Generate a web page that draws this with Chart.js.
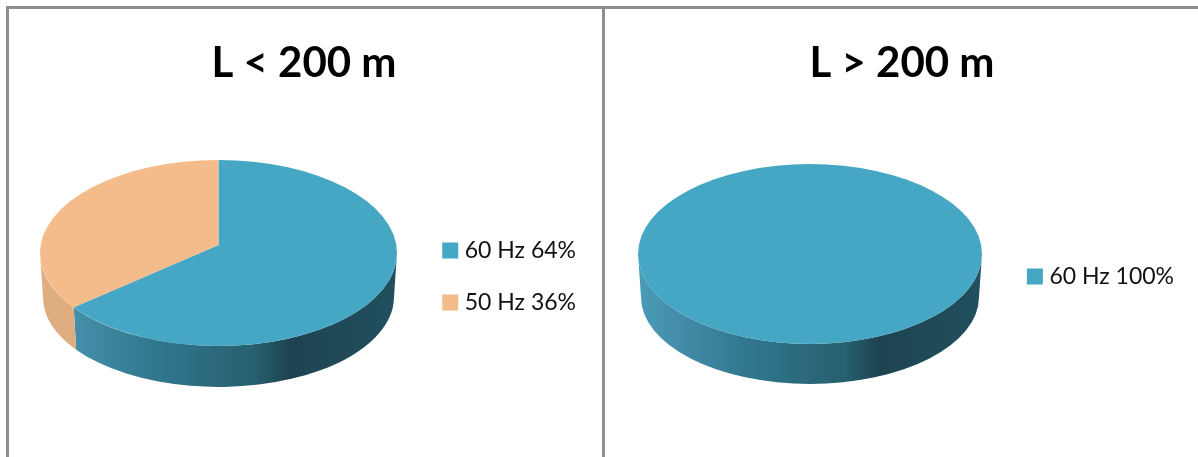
<!DOCTYPE html>
<html>
<head>
<meta charset="utf-8">
<style>
  html, body { margin: 0; background: #fff; }
  body { position: relative; width: 1198px; height: 457px; overflow: hidden; }
  .rule { position: absolute; background: #8e8e8e; }
  canvas { position: absolute; top: 0; }
</style>
</head>
<body>
<div class="rule" style="left:6px;top:6px;width:1192px;height:3px"></div>
<div class="rule" style="left:6px;top:6px;width:3px;height:451px"></div>
<div class="rule" style="left:602px;top:6px;width:3px;height:451px"></div>
<canvas id="left" width="602" height="457" style="left:3px"></canvas>
<canvas id="right" width="592" height="457" style="left:606px"></canvas>
<script src="https://cdn.jsdelivr.net/npm/chart.js@4"></script>
<script>
// Chart values.
const leftTitle = "L < 200 m";
const leftCategories = ["60 Hz", "50 Hz"];
const leftValues = [64, 36];

const rightTitle = "L > 200 m";
const rightCategories = ["60 Hz"];
const rightValues = [100];

const COLORS = ["#46a7c4", "#f5bc8b"];
const WALLS = [
  [[0, "#4a9cb8"], [0.1, "#448fab"], [0.31, "#31788f"], [0.6, "#27606f"], [0.7, "#1e4350"], [1, "#21505f"]],
  [[0, "#dfae80"], [1, "#dba777"]],
];

// Where a slice edge, leaving the raised pie centre at this angle, meets the rim
// (measured from the disc centre, so the wall lines up with the clipped top).
function rimAngle(angle, lift, r) {
  const c = Math.cos(angle), s = Math.sin(angle);
  const t = lift * s + Math.sqrt(lift * lift * s * s + r * r - lift * lift);
  return Math.atan2(t * s - lift, t * c);
}

// Chart.js only draws flat pies: squash the arcs into an ellipse and put a side
// wall under the front half so it reads as the tilted disc in the original.
// The pie centre sits a bit above the disc centre, like the perspective there.
const tiltedPie = {
  id: "tiltedPie",
  beforeDatasetsDraw(chart, args, opts) {
    const { ctx } = chart;
    const arcs = chart.getDatasetMeta(0).data;
    const first = arcs[0];
    const r = opts.rim;
    const ry = r * opts.squash;
    const lift = opts.lift / opts.squash;
    const norm = (a) => { const n = rimAngle(a, lift, r); return n < -Math.PI / 2 ? n + 2 * Math.PI : n; };

    arcs.forEach((arc, i) => {
      const a0 = Math.max(norm(arc.startAngle), 0);
      const a1 = Math.min(arc.endAngle - arc.startAngle >= 2 * Math.PI - 1e-6 ? Math.PI : norm(arc.endAngle), Math.PI);
      if (a1 <= a0) return;
      const grad = ctx.createLinearGradient(opts.cx - r, 0, opts.cx + r, 0);
      WALLS[i].forEach(([t, c]) => grad.addColorStop(t, c));
      ctx.beginPath();
      ctx.ellipse(opts.cx, opts.cy, r, ry, 0, a0, a1);
      ctx.ellipse(opts.cx, opts.cy + opts.depth + 3, r - 3, ry - 3, 0, a1, a0, true);
      ctx.closePath();
      ctx.fillStyle = grad;
      ctx.fill();
    });

    ctx.save();
    ctx.beginPath();
    ctx.ellipse(opts.cx, opts.cy, r, ry, 0, 0, 2 * Math.PI);
    ctx.clip();
    ctx.translate(opts.cx, opts.cy - opts.lift);
    ctx.scale(1, opts.squash);
    ctx.translate(-first.x, -first.y);
  },
  afterDatasetsDraw(chart) {
    chart.ctx.restore();
  },
};

function discChart(id, title, categories, values, disc, legendPad) {
  return new Chart(document.getElementById(id), {
    type: "pie",
    data: {
      labels: categories.map((c, i) => `${c} ${values[i]}%`),
      datasets: [{
        data: values,
        backgroundColor: COLORS.slice(0, values.length),
        borderWidth: 0,
        radius: disc.rim + disc.lift / disc.squash + 2,
        clip: false,
      }],
    },
    options: {
      responsive: false,
      animation: false,
      // left padding keeps the title centred; negative bottom drops the legend to mid-disc
      layout: { padding: { left: legendPad, right: legendPad, bottom: -96 } },
      plugins: {
        tooltip: { enabled: false },
        title: {
          display: true,
          text: title,
          color: "#000",
          font: { family: "Lato", size: 42, weight: "bold" },
          padding: { top: 38, bottom: 30 },
        },
        legend: {
          position: "right",
          labels: {
            color: "#111",
            font: { family: "Lato", size: 23 },
            boxWidth: 6,
            boxHeight: 6,
            padding: 29,
            // thick same-colour stroke: the square stays 16px but sits closer to its text
            generateLabels: (chart) =>
              Chart.overrides.pie.plugins.legend.labels.generateLabels(chart)
                .map((l) => ({ ...l, lineWidth: 10, strokeStyle: l.fillStyle })),
          },
        },
        tiltedPie: disc,
      },
    },
    plugins: [tiltedPie],
  });
}

discChart("left", leftTitle, leftCategories, leftValues,
  { cx: 215.5, cy: 253, rim: 178.5, squash: 0.521, depth: 41, lift: 8 }, 19);
discChart("right", rightTitle, rightCategories, rightValues,
  { cx: 204, cy: 254, rim: 172, squash: 0.523, depth: 40, lift: 0 }, 14);
</script>
</body>
</html>
